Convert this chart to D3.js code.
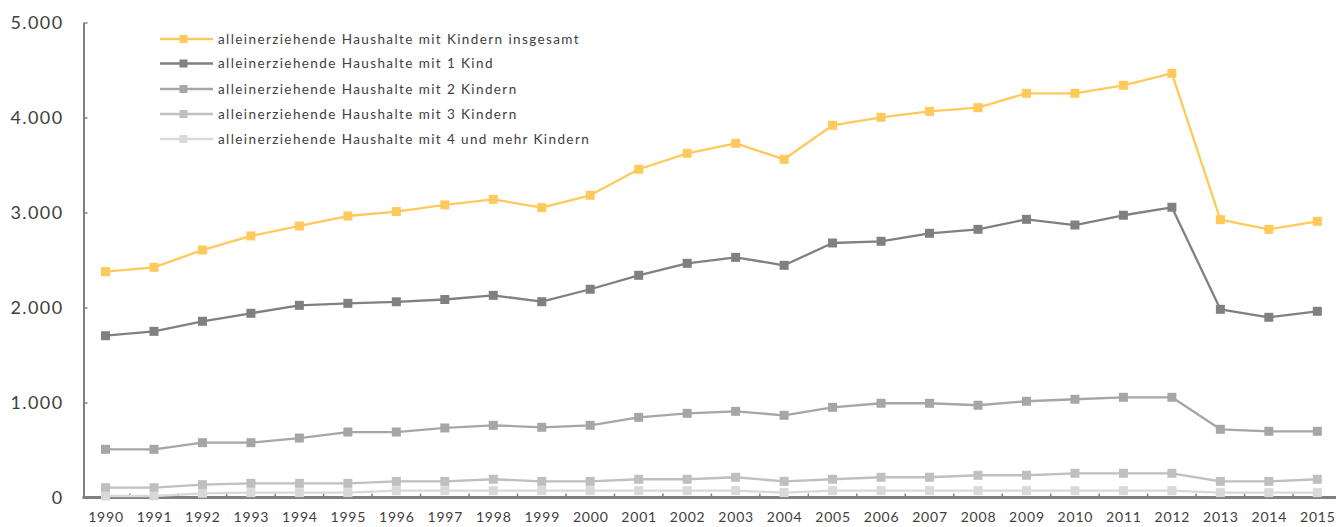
<!DOCTYPE html>
<html>
<head>
<meta charset="utf-8">
<script src="https://cdn.jsdelivr.net/npm/d3@7"></script>
<style>
  html, body { margin: 0; padding: 0; background: #fff; }
  svg { display: block; }
  text { font-family: Lato, "Open Sans", sans-serif; fill: #404040; }
</style>
</head>
<body>
<svg id="chart" width="1336" height="527"></svg>
<script>
const years = ["1990","1991","1992","1993","1994","1995","1996","1997","1998","1999","2000","2001","2002","2003","2004","2005","2006","2007","2008","2009","2010","2011","2012","2013","2014","2015"];
const yTicks = [0, 1000, 2000, 3000, 4000, 5000];
const seriesNames = [
  "alleinerziehende Haushalte mit Kindern insgesamt",
  "alleinerziehende Haushalte mit 1 Kind",
  "alleinerziehende Haushalte mit 2 Kindern",
  "alleinerziehende Haushalte mit 3 Kindern",
  "alleinerziehende Haushalte mit 4 und mehr Kindern"
];
const seriesColors = ["#FFC95C", "#808080", "#A6A6A6", "#BFBFBF", "#D9D9D9"];
const totalValues = [2377,2423,2605,2753,2858,2963,3010,3080,3139,3051,3181,3455,3623,3728,3560,3918,4002,4065,4103,4255,4255,4339,4465,2924,2823,2907];
const oneChildValues = [1703,1749,1855,1939,2023,2044,2060,2084,2128,2061,2192,2339,2465,2528,2444,2679,2697,2781,2823,2928,2868,2971,3055,1981,1897,1960];
const twoChildValues = [507,507,577,577,626,689,689,732,760,739,760,844,886,907,865,949,992,992,971,1013,1034,1055,1055,718,697,697];
const threeChildValues = [103,103,135,149,149,149,170,170,192,170,170,192,192,213,170,192,213,213,234,234,255,255,255,170,170,192];
const fourPlusValues = [16,16,44,51,51,51,72,72,72,72,72,72,72,72,51,72,72,72,72,72,72,72,72,51,51,51];

const allValues = [totalValues, oneChildValues, twoChildValues, threeChildValues, fourPlusValues];

const svg = d3.select("#chart");
const axisX = 83.5, y0 = 497.5, yTop = 22.5;

const x = d3.scalePoint().domain(years).range([105.5, 1317.3]);
const step = x.step();
const y = d3.scaleLinear().domain([0, 5000]).range([y0, yTop]);

const de = d3.formatLocale({decimal: ",", thousands: ".", grouping: [3], currency: ["", " €"]});
const fmt = de.format(",");

// Y axis
const yAxis = d3.axisLeft(y).tickValues(yTicks).tickSizeInner(-4).tickSizeOuter(0).tickPadding(20).tickFormat(fmt);
const gy = svg.append("g").attr("transform", `translate(${axisX},0)`).call(yAxis);
gy.select(".domain").attr("stroke", "#808080").attr("stroke-width", 2);
gy.selectAll(".tick line").attr("stroke", "#808080").attr("stroke-width", 1.5);
gy.selectAll(".tick text").attr("font-size", 18).attr("letter-spacing", 1.4).attr("fill", "#404040").attr("font-family", "Lato, sans-serif");

// X axis labels
const xAxis = d3.axisBottom(x).tickSize(0).tickPadding(15);
const gx = svg.append("g").attr("transform", `translate(0,${y0})`).call(xAxis);
gx.select(".domain").remove();
gx.selectAll(".tick text").attr("font-size", 14).attr("letter-spacing", 0.8).attr("fill", "#404040").attr("font-family", "Lato, sans-serif");

// X axis line and boundary ticks
svg.append("line").attr("x1", axisX - 1).attr("x2", 1336).attr("y1", y0).attr("y2", y0)
  .attr("stroke", "#808080").attr("stroke-width", 3);
svg.append("g").selectAll("line").data(years.slice(1)).join("line")
  .attr("x1", d => x(d) - step / 2).attr("x2", d => x(d) - step / 2)
  .attr("y1", y0).attr("y2", y0 - 4)
  .attr("stroke", "#808080").attr("stroke-width", 1.5);

// Lines & markers
const line = d3.line().x((d, i) => x(years[i])).y(d => y(d));
const ms = 9;
allValues.forEach((vals, si) => {
  const g = svg.append("g");
  g.append("path").datum(vals).attr("d", line).attr("fill", "none")
    .attr("stroke", seriesColors[si]).attr("stroke-width", 2.3).attr("stroke-linejoin", "round");
  g.selectAll("rect").data(vals).join("rect")
    .attr("x", (d, i) => x(years[i]) - ms / 2).attr("y", d => y(d) - ms / 2)
    .attr("width", ms).attr("height", ms).attr("fill", seriesColors[si]);
});

// Legend
const legend = svg.append("g");
const legY = [39, 63.5, 89, 114, 139];
seriesNames.forEach((name, i) => {
  const g = legend.append("g").attr("transform", `translate(0,${legY[i]})`);
  g.append("line").attr("x1", 160).attr("x2", 213).attr("y1", 0).attr("y2", 0)
    .attr("stroke", seriesColors[i]).attr("stroke-width", 2.3);
  g.append("rect").attr("x", 183.5 - 4).attr("y", -4).attr("width", 8).attr("height", 8).attr("fill", seriesColors[i]);
  g.append("text").attr("x", 218).attr("y", 0).attr("dy", "0.35em")
    .attr("font-size", 13.5).attr("letter-spacing", 1.4).attr("fill", "#404040").text(name);
});
</script>
</body>
</html>
